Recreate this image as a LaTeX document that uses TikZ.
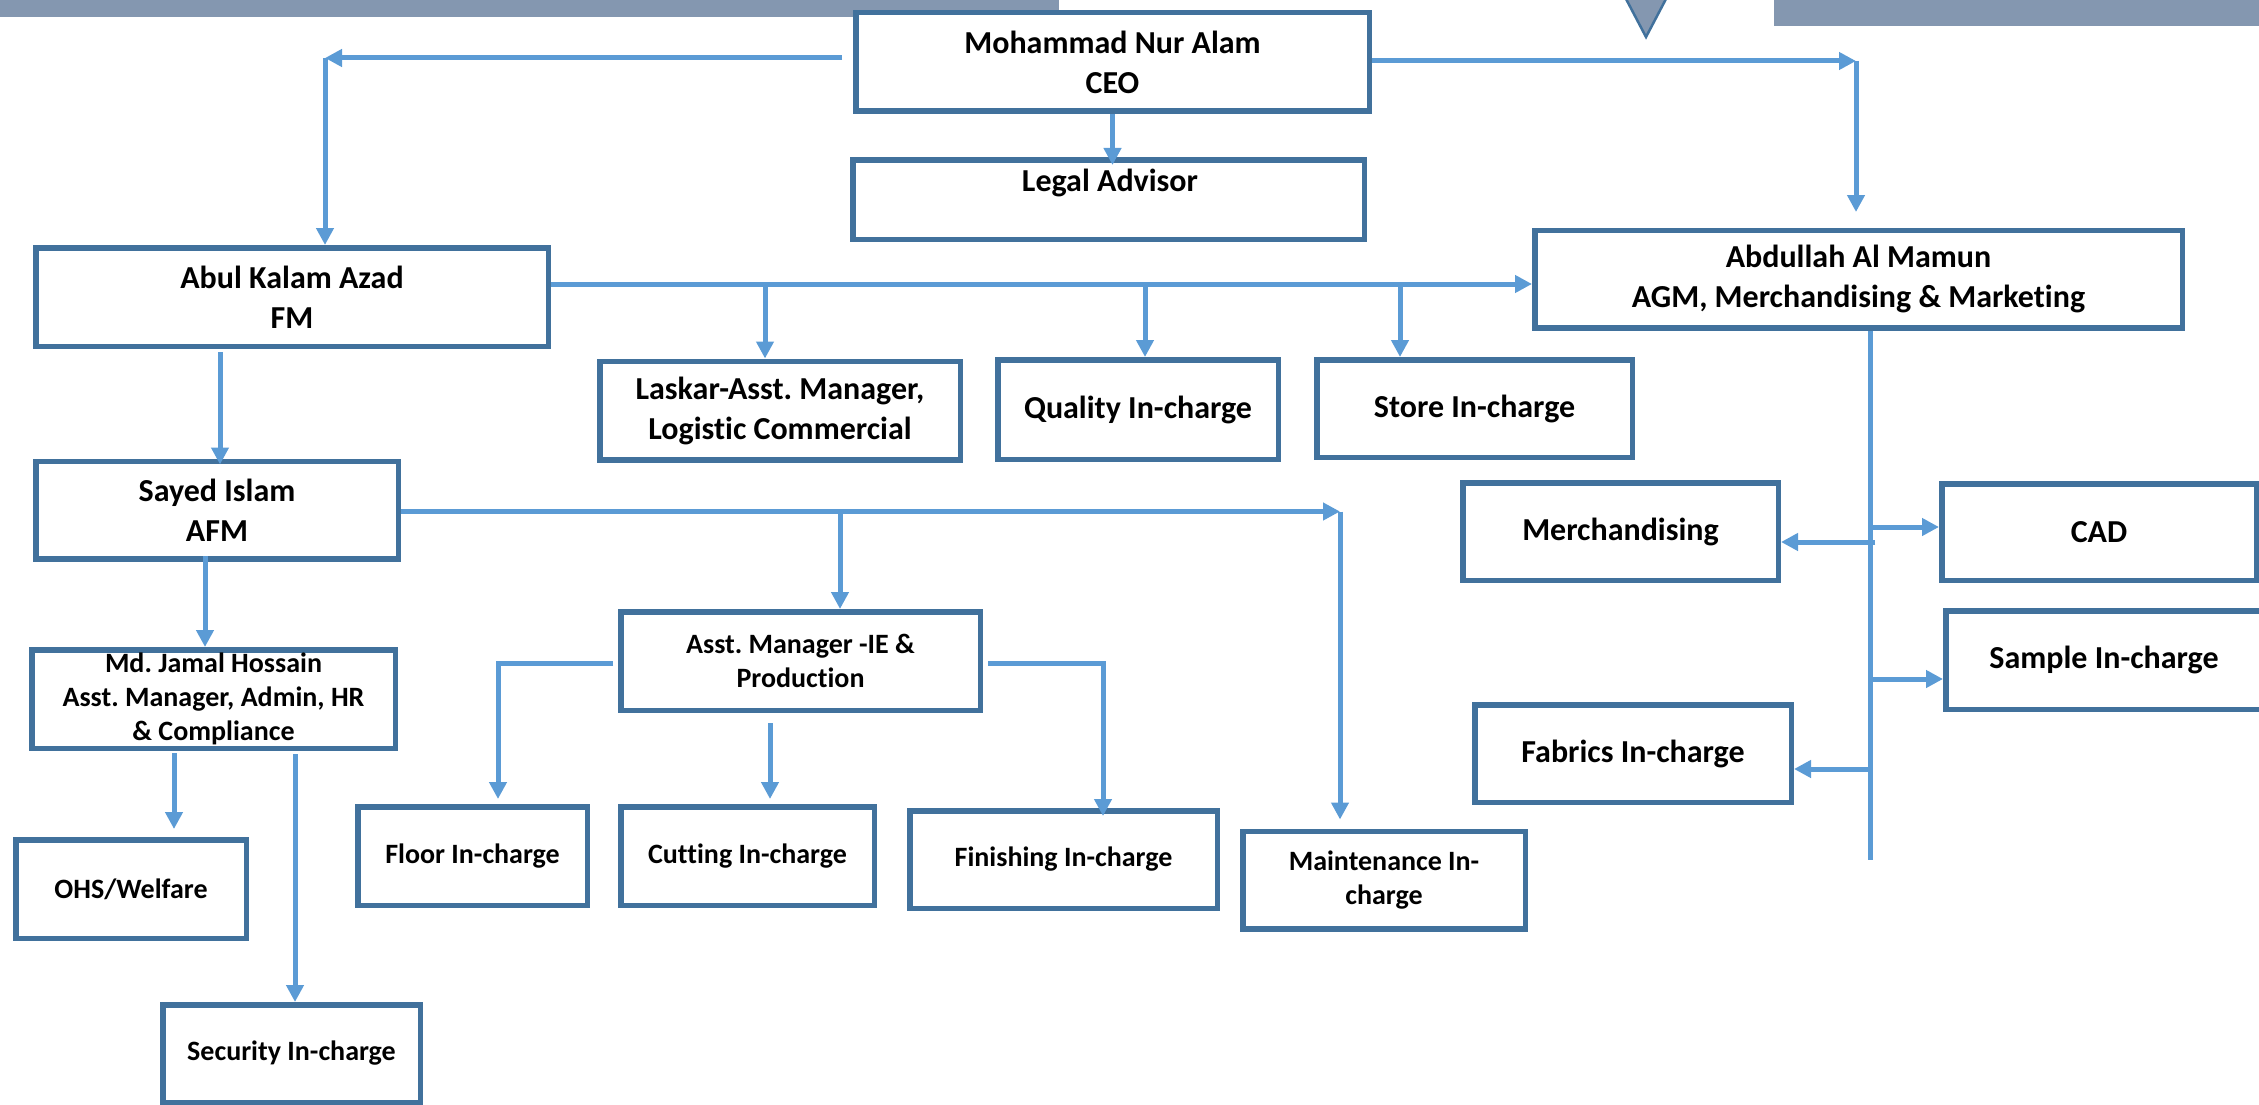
\documentclass[tikz,border=0pt]{standalone}
\usepackage{fontspec}
\setmainfont{Carlito}[Ligatures=NoCommon]
\usetikzlibrary{arrows.meta,calc}
\definecolor{lineblue}{HTML}{5B9BD5}
\definecolor{boxblue}{HTML}{41719C}
\definecolor{barblue}{HTML}{8497B0}
\frenchspacing
\begin{document}
\begin{tikzpicture}[x=1pt,y=-1pt,
  box/.style={draw=boxblue, line width=5.5pt, fill=white, inner sep=0pt, align=center,
    font=\bfseries\fontsize{32}{40}\selectfont},
  sbox/.style={box, font=\bfseries\fontsize{28}{34}\selectfont},
  conn/.style={draw=lineblue, line width=5pt, -{Triangle[length=17pt,width=17pt]}},
  plain/.style={draw=lineblue, line width=5pt},
]
\useasboundingbox (0,0) rectangle (2259,1105);

% top decorations
\fill[barblue] (0,0) rectangle (1059,17);
\fill[barblue] (1774,0) rectangle (2259,26);
\filldraw[fill=barblue, draw=boxblue, line width=2.5pt] (1625,-3) -- (1667,-3) -- (1646,37) -- cycle;

% boxes
\node[box, minimum width=513.5pt, minimum height=98.5pt] (ceo) at (1112.5,62) {Mohammad Nur Alam\\CEO};
\node[box, minimum width=511.5pt, minimum height=79.5pt] (legal) at (1108.5,199.5) {};
\node[font=\bfseries\fontsize{32}{40}\selectfont] (legaltxt) at (1110,183) {Legal Advisor};
\node[box, minimum width=512.5pt, minimum height=98.5pt] (fm) at (292,297) {Abul Kalam Azad\\FM};
\node[box, minimum width=647.5pt, minimum height=97.5pt] (agm) at (1858.5,279) {Abdullah Al Mamun\\AGM, Merchandising \& Marketing};
\node[box, minimum width=360.5pt, minimum height=98.5pt] (laskar) at (780,410.5) {Laskar-Asst. Manager,\\Logistic Commercial};
\node[box, minimum width=280.5pt, minimum height=99.5pt] (quality) at (1138,409.5) {Quality In-charge};
\node[box, minimum width=315.5pt, minimum height=97.5pt] (store) at (1474.5,408.5) {Store In-charge};
\node[box, minimum width=362.5pt, minimum height=97.5pt] (sayed) at (217,510) {Sayed Islam\\AFM};
\node[box, minimum width=315.5pt, minimum height=97.5pt] (merch) at (1620.5,531.5) {Merchandising};
\node[box, minimum width=314.5pt, minimum height=96.5pt] (cad) at (2099,532) {CAD};
\node[box, minimum width=316.5pt, minimum height=98.5pt] (sample) at (2104,660) {Sample In-charge};
\node[box, minimum width=316.5pt, minimum height=97.5pt] (fabrics) at (1633,753.5) {Fabrics In-charge};
\node[sbox, minimum width=359.5pt, minimum height=98.5pt] (ie) at (800.5,661) {Asst. Manager -IE \&\\Production};
\node[sbox, minimum width=363.5pt, minimum height=98.5pt] (jamal) at (213.5,699) {Md. Jamal Hossain\\Asst. Manager, Admin, HR\\\& Compliance};
\node[sbox, minimum width=230.5pt, minimum height=98.5pt] (ohs) at (131,889) {OHS/Welfare};
\node[sbox, minimum width=229.5pt, minimum height=98.5pt] (floor) at (472.5,856) {Floor In-charge};
\node[sbox, minimum width=253.5pt, minimum height=98.5pt] (cutting) at (747.5,856) {Cutting In-charge};
\node[sbox, minimum width=307.5pt, minimum height=97.5pt] (finishing) at (1063.5,859.5) {Finishing In-charge};
\node[sbox, minimum width=282.5pt, minimum height=97.5pt] (maint) at (1384,880) {Maintenance In-\\charge};
\node[sbox, minimum width=257.5pt, minimum height=97.5pt] (security) at (291.5,1053.5) {Security In-charge};

% CEO connectors
\coordinate (jl) at (325,58);
\draw[conn, shorten <=11pt] (ceo.west |- jl) -- (jl);
\draw[conn] (jl) -- (jl |- fm.north);
\coordinate (jr) at (1856,61);
\coordinate (jr2) at (1856,212);
\draw[conn] (ceo.east |- jr) -- (jr);
\draw[conn] (jr) -- (jr2);
\draw[conn, shorten >=-8pt] (ceo.south) -- (ceo.south |- legal.north);

% FM bus
\coordinate (b1) at (765,284);
\coordinate (b2) at (1145,284);
\coordinate (b3) at (1400,284);
\draw[conn] (fm.east |- b1) -- (agm.west |- b1);
\draw[conn] (b1) -- (b1 |- laskar.north);
\draw[conn] (b2) -- (b2 |- quality.north);
\draw[conn] (b3) -- (b3 |- store.north);

% FM -> Sayed
\coordinate (s1) at (220,352);
\draw[conn, shorten >=-6pt] (s1) -- (s1 |- sayed.north);

% Sayed bus
\coordinate (m1) at (1340,511.5);
\coordinate (m2) at (840,511.5);
\draw[conn] (sayed.east |- m1) -- (m1);
\draw[conn, shorten >=9pt] (m1) -- (m1 |- maint.north);
\draw[conn] (m2) -- (m2 |- ie.north);

% Sayed -> Jamal
\coordinate (j1) at (205,556);
\draw[conn] (j1) -- (j1 |- jamal.north);

% Jamal -> OHS, Security
\coordinate (o1) at (174,753);
\draw[conn, shorten >=8pt] (o1) -- (o1 |- ohs.north);
\coordinate (q1) at (295,754);
\draw[conn] (q1) -- (q1 |- security.north);

% IE branches
\coordinate (f1) at (498,663.5);
\draw[conn, shorten >=5pt] ([xshift=-5pt]ie.west |- f1) -- (f1) -- (f1 |- floor.north);
\coordinate (c1) at (770,723);
\draw[conn, shorten >=5pt] (c1) -- (c1 |- cutting.north);
\coordinate (g1) at (1103,663.5);
\draw[conn, shorten >=-8pt] ([xshift=5pt]ie.east |- g1) -- (g1) -- (g1 |- finishing.north);

% AGM spine
\coordinate (v1) at (1870,860);
\draw[plain] (agm.south -| v1) -- (v1);
\coordinate (h1) at (1870,527);
\coordinate (h2) at (1875,542);
\coordinate (h3) at (1870,679);
\coordinate (h4) at (1870,769);
\draw[conn] (h1) -- (h1 -| cad.west);
\draw[conn] (h2) -- (h2 -| merch.east);
\draw[conn] (h3) -- (h3 -| sample.west);
\draw[conn] (h4) -- (h4 -| fabrics.east);
\end{tikzpicture}
\end{document}
